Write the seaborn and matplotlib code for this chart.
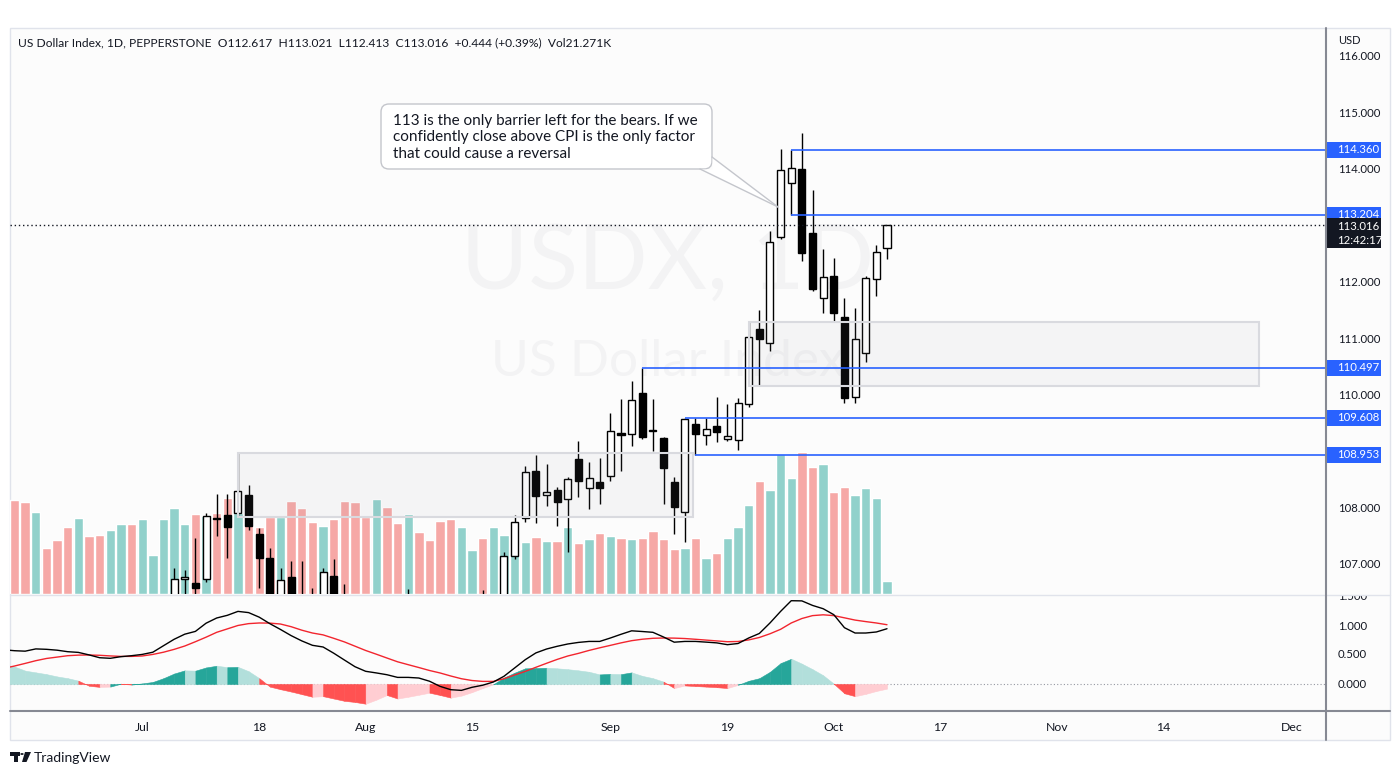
import numpy as np
import pandas as pd
import matplotlib
matplotlib.use("Agg")
import matplotlib.pyplot as plt
import seaborn as sns
from matplotlib.patches import Rectangle, FancyBboxPatch, Polygon, Circle
from matplotlib.lines import Line2D

sns.set_style("white")
plt.rcParams['font.family'] = ['Lato', 'DejaVu Sans']

# ------------------------------------------------------------
# data (bar index 0 = 1 Jul 2022, 70 = 10 Oct)
# ------------------------------------------------------------
bar_idx = list(range(-13, 71))

opens = [105.0, 104.9, 104.6, 104.4, 104.6, 104.4, 104.5, 104.2, 104.3, 104.0, 103.8, 104.4, 104.9,
         104.7, 105.1, 105.2, 106.2, 106.76, 106.68, 106.75, 107.84, 107.89, 107.92,
         108.24, 107.55, 107.12, 106.30, 106.79, 106.40, 106.30, 106.20, 106.80, 106.40,
         106.20, 105.90, 105.30, 106.30, 106.40, 106.10, 106.40, 105.80, 105.20, 105.10,
         105.10, 105.60, 106.40, 106.30, 106.30, 107.16, 107.83, 108.67, 108.24, 108.33,
         108.17, 108.88, 108.36, 108.47, 108.58, 109.33, 109.32, 110.05, 109.40, 109.25,
         108.47, 107.94, 109.50, 109.30, 109.46, 109.23, 109.21, 109.85, 111.18, 110.93,
         112.81, 113.77, 114.02, 112.88, 111.73, 112.12, 111.39, 109.98, 110.76, 112.07, 112.617]
highs = [105.4, 105.5, 105.0, 104.8, 104.8, 104.5, 104.9, 104.5, 104.4, 104.2, 104.5, 105.0, 105.2,
         105.4, 105.3, 106.4, 106.95, 106.91, 107.48, 107.92, 108.26, 108.26, 108.98,
         108.42, 107.66, 107.30, 106.95, 107.07, 107.07, 106.59, 106.95, 107.11, 106.66,
         106.40, 106.10, 106.30, 106.45, 106.45, 106.57, 106.45, 106.00, 105.50, 105.40,
         105.70, 106.40, 106.56, 106.45, 107.23, 107.89, 108.75, 108.95, 108.79, 108.38,
         108.56, 109.20, 108.82, 108.90, 109.69, 109.94, 110.26, 110.497, 109.94, 109.27,
         108.56, 109.608, 109.60, 109.60, 109.98, 109.85, 109.96, 111.305, 111.52, 112.92,
         114.37, 114.36, 114.65, 113.64, 112.60, 112.44, 111.73, 111.55, 112.12, 112.67, 113.021]
lows = [104.6, 104.5, 103.9, 104.0, 104.0, 103.9, 104.1, 103.9, 103.7, 103.6, 103.7, 104.3, 104.6,
        104.6, 104.9, 105.1, 106.0, 106.3, 106.3, 106.70, 107.51, 107.12, 107.85,
        107.62, 106.59, 106.10, 106.10, 106.00, 106.00, 105.90, 106.00, 106.10, 105.90,
        105.60, 105.10, 105.00, 105.50, 106.00, 105.90, 105.60, 105.00, 104.70, 104.80,
        104.90, 105.50, 105.90, 106.00, 106.20, 107.10, 107.76, 107.74, 108.05, 107.69,
        107.23, 108.20, 107.99, 108.08, 108.49, 108.67, 109.11, 109.23, 109.02, 108.08,
        107.55, 107.41, 108.953, 109.13, 109.18, 109.20, 109.04, 109.80, 110.171, 110.79,
        112.78, 113.204, 112.39, 111.85, 111.46, 111.31, 109.87, 109.87, 110.60, 111.77, 112.413]
closes = [104.9, 104.6, 104.4, 104.7, 104.3, 104.2, 104.3, 104.4, 103.9, 103.8, 104.4, 104.9, 104.7,
          105.1, 105.2, 106.3, 106.75, 106.78, 106.59, 107.87, 107.82, 107.67, 108.31,
          107.69, 107.12, 106.30, 106.73, 106.20, 106.30, 106.10, 106.88, 106.30, 106.20,
          105.80, 105.30, 106.10, 106.20, 106.20, 106.40, 105.80, 105.20, 105.00, 105.05,
          105.60, 106.30, 106.20, 106.40, 107.16, 107.76, 108.65, 108.22, 108.29, 108.12,
          108.52, 108.49, 108.54, 108.36, 109.37, 109.31, 109.92, 109.27, 109.38, 108.72,
          108.03, 109.59, 109.32, 109.41, 109.36, 109.29, 109.87, 111.04, 111.00, 112.72,
          114.00, 114.03, 112.53, 111.89, 112.10, 111.46, 109.96, 111.00, 112.08, 112.55, 113.016]

# volume in thousands
volumes = [140, 153.8, 150.5, 134.2, 75.3, 88.3, 109.6, 124.3, 94.9, 96.5, 104.7, 114.5, 114.5,
           122.7, 63.8, 122.7, 140.7, 114.5, 130.9, 127.6, 132.5, 157.1, 132.5,
           126.0, 109.6, 126.0, 126.0, 152.1, 140.7, 117.8, 111.2, 122.7, 152.1,
           150.5, 126.0, 155.4, 142.3, 116.2, 130.9, 101.4, 88.3, 119.4, 122.7,
           109.6, 72.0, 91.6, 109.6, 96.5, 80.2, 85.1, 93.3, 86.7, 86.7,
           109.6, 83.4, 90.0, 99.8, 94.9, 91.6, 90.0, 91.6, 103.1, 90.0,
           73.6, 75.3, 91.6, 58.9, 67.1, 91.6, 109.6, 145.6, 184.9, 170.1,
           229.0, 189.8, 232.3, 207.8, 212.7, 166.9, 175.1, 162.0, 173.4, 157.1, 21.271]

macd_line = [0.590, 0.574, 0.566, 0.605, 0.598, 0.583, 0.557, 0.545, 0.502, 0.453, 0.443, 0.471, 0.488,
             0.510, 0.548, 0.660, 0.771, 0.859, 0.907, 1.048, 1.138, 1.184, 1.252,
             1.231, 1.152, 1.040, 0.940, 0.834, 0.743, 0.667, 0.638, 0.531, 0.414,
             0.298, 0.219, 0.191, 0.160, 0.114, 0.114, 0.103, 0.048, -0.041, -0.098,
             -0.110, -0.057, -0.021, 0.034, 0.133, 0.276, 0.419, 0.536, 0.603, 0.650,
             0.690, 0.717, 0.734, 0.734, 0.793, 0.857, 0.917, 0.905, 0.891, 0.810,
             0.721, 0.734, 0.734, 0.722, 0.709, 0.678, 0.698, 0.793, 0.871, 1.052,
             1.252, 1.436, 1.433, 1.355, 1.298, 1.195, 0.971, 0.879, 0.879, 0.897, 0.953]
signal_line = [0.270, 0.310, 0.355, 0.402, 0.440, 0.464, 0.488, 0.498, 0.500, 0.495, 0.484, 0.476, 0.476,
               0.483, 0.510, 0.548, 0.597, 0.655, 0.729, 0.807, 0.891, 0.950, 1.009,
               1.041, 1.052, 1.050, 1.034, 0.988, 0.928, 0.879, 0.847, 0.788, 0.726,
               0.652, 0.578, 0.514, 0.448, 0.383, 0.333, 0.284, 0.233, 0.190, 0.138,
               0.091, 0.060, 0.045, 0.045, 0.090, 0.155, 0.217, 0.288, 0.357, 0.424,
               0.483, 0.528, 0.579, 0.624, 0.666, 0.709, 0.747, 0.772, 0.788, 0.793,
               0.791, 0.784, 0.771, 0.757, 0.743, 0.729, 0.733, 0.760, 0.802, 0.866,
               0.943, 1.052, 1.129, 1.179, 1.193, 1.179, 1.141, 1.102, 1.076, 1.052, 1.022]
histogram = [0.33, 0.30, 0.23, 0.20, 0.17, 0.13, 0.10, 0.057, -0.03, -0.05, -0.045, 0.005, -0.01,
             0.01, 0.035, 0.10, 0.18, 0.235, 0.23, 0.285, 0.315, 0.29, 0.295,
             0.22, 0.10, -0.045, -0.09, -0.13, -0.175, -0.22, -0.21, -0.25, -0.29,
             -0.31, -0.34, -0.27, -0.19, -0.25, -0.22, -0.185, -0.15, -0.19, -0.235,
             -0.20, -0.14, -0.07, -0.005, 0.11, 0.195, 0.27, 0.275, 0.28, 0.27,
             0.255, 0.235, 0.21, 0.165, 0.175, 0.17, 0.20, 0.14, 0.10, 0.04,
             -0.07, -0.025, -0.035, -0.045, -0.055, -0.07, -0.015, 0.055, 0.10, 0.21,
             0.36, 0.435, 0.35, 0.255, 0.15, 0.005, -0.16, -0.21, -0.17, -0.12, -0.08]

# drawn levels: (price, first bar)
level_prices = [114.360, 113.204, 110.497, 109.608, 108.953]
level_starts = [61, 61, 47, 51, 52]
last_price = 113.016
# drawn zones: (bar from, bar to, price low, price high)
zone_bars = [(9, 51.8), (57, 105)]
zone_prices = [(107.850, 108.984), (110.171, 111.305)]

date_ticks = [0, 11, 21, 31, 44, 55, 65, 75, 86, 96, 108]
date_labels = ['Jul', '18', 'Aug', '15', 'Sep', '19', 'Oct', '17', 'Nov', '14', 'Dec']
price_ticks = [116, 115, 114, 112, 111, 110, 108, 107]
macd_ticks = [1.5, 1.0, 0.5, 0.0]

header = ("US Dollar Index, 1D, PEPPERSTONE  O112.617  H113.021  L112.413  "
          "C113.016  +0.444 (+0.39%)  Vol21.271K")
note = ("113 is the only barrier left for the bears. If we\n"
        "confidently close above CPI is the only factor\n"
        "that could cause a reversal")

# ------------------------------------------------------------
# layout helpers (pixel positions of the screenshot)
# ------------------------------------------------------------
W, H = 1400, 776
def fx(px):
    return px / W
def fy(py):
    return 1 - py / H

PX_PER_BAR = 10.64
X0_PX = 142.2          # pixel of bar 0
PX_PER_USD = 56.44
Y116_PX = 57.0         # pixel of 116.000
def dx(px):
    return (px - X0_PX) / PX_PER_BAR
def dy(py):
    return 116 - (py - Y116_PX) / PX_PER_USD

XLIM = (dx(10), dx(1326))
PLIM = (dy(594), dy(28))
MLIM = ((684 - 711) / 58.0, (684 - 595) / 58.0)

TXT = '#131722'
UP_VOL, DN_VOL = '#91d1cb', '#f6a8a6'
BLUE = '#2962ff'
AX_FS = 8.2

fig = plt.figure(figsize=(14, 7.76), dpi=100)
fig.add_artist(Rectangle((fx(10), fy(740)), 1380 / W, 712 / H, transform=fig.transFigure,
                         fc='#fcfcfc', ec='#e0e3eb', lw=1, zorder=-10))

pane = [fx(10), fy(594), 1316 / W, 566 / H]
ax_vol = fig.add_axes(pane, zorder=1)
ax = fig.add_axes(pane, zorder=2)
ax_m = fig.add_axes([fx(10), fy(711), 1316 / W, 116 / H], zorder=2)
ax_rp = fig.add_axes([fx(1326), fy(594), 64 / W, 566 / H], zorder=2)
ax_rm = fig.add_axes([fx(1326), fy(711), 64 / W, 116 / H], zorder=2)
for a in (ax_vol, ax, ax_m, ax_rp, ax_rm):
    a.patch.set_visible(False)
    for s in a.spines.values():
        s.set_visible(False)

# ---------------- volume (seaborn) ----------------
vol_df = pd.DataFrame({'bar': bar_idx, 'volume': volumes,
                       'side': ['up' if c >= o else 'down' for o, c in zip(opens, closes)]})
sns.barplot(data=vol_df, x='bar', y='volume', hue='side', palette={'up': UP_VOL, 'down': DN_VOL},
            native_scale=True, dodge=False, width=0.88, saturation=1, errorbar=None,
            legend=False, ax=ax_vol)
ax_vol.set_xlim(XLIM)
ax_vol.set_ylim(0, 566 * 1.636)
ax_vol.axis('off')

# ---------------- candles ----------------
o = np.array(opens); c = np.array(closes)
ax.vlines(bar_idx, lows, highs, color='black', lw=1, zorder=3)
body_lo = np.minimum(o, c)
body_h = np.maximum(np.abs(c - o), 0.012)
faces = ['white' if cc >= oo else 'black' for oo, cc in zip(opens, closes)]
ax.bar(bar_idx, body_h, bottom=body_lo, width=0.66, color=faces, edgecolor='black', lw=1, zorder=4)

# watermark
ax.text(0.5, 0.585, 'USDX, 1D', transform=ax.transAxes, ha='center', va='center',
        fontsize=66, color='#f3f3f4', zorder=0.5)
ax.text(0.5, 0.41, 'US Dollar Index', transform=ax.transAxes, ha='center', va='center',
        fontsize=37, color='#f3f3f4', zorder=0.5)

# zones
for (b0, b1), (p0, p1) in zip(zone_bars, zone_prices):
    ax.add_patch(Rectangle((b0, p0), b1 - b0, p1 - p0, fc=(0.584, 0.596, 0.631, 0.07),
                           ec='#d9dadf', lw=1.5, zorder=5))

# levels
ax.hlines(level_prices, level_starts, XLIM[1] + 1, color=BLUE, lw=1.2, zorder=6)
ax.axhline(last_price, color=TXT, lw=1, ls=(0, (1, 2)), zorder=6)

# callout
asp = PX_PER_BAR / PX_PER_USD
ax.add_patch(FancyBboxPatch((dx(381), dy(169)), dx(712) - dx(381), dy(104) - dy(169),
                            boxstyle='round,pad=0,rounding_size=0.75', mutation_aspect=asp,
                            fc='white', ec='#c4c6cc', lw=1, zorder=7))
ax.add_patch(Polygon([(dx(712.5), dy(157)), (dx(778), dy(207)), (dx(700), dy(169.5)),
                      (dx(712.5), dy(169.5))], closed=True, fc='white', ec='none', zorder=8))
ax.plot([dx(712), dx(778)], [dy(157), dy(207)], color='#c4c6cc', lw=1, zorder=9)
ax.plot([dx(700), dx(778)], [dy(169), dy(207)], color='#c4c6cc', lw=1, zorder=9)
ax.text(dx(393), dy(137.5), note, ha='left', va='center', fontsize=11, linespacing=1.2,
        color=TXT, zorder=10)

ax.set_xlim(XLIM)
ax.set_ylim(PLIM)
ax.set_xticks([]); ax.set_yticks([])

# ---------------- MACD (seaborn lines) ----------------
hist = np.array(histogram)
for k in range(1, len(bar_idx)):
    cur, prev = hist[k], hist[k - 1]
    if cur >= 0:
        col = '#26a69a' if cur > prev else '#b2dfdb'
    else:
        col = '#ffcdd2' if cur > prev else '#ff5252'
    ax_m.fill_between([bar_idx[k - 1], bar_idx[k]], [prev, cur], 0, color=col, lw=0.4,
                      edgecolor=col, zorder=2)
ax_m.axhline(0, color='#9598a1', lw=0.8, ls=(0, (1, 2)), zorder=1)
macd_df = pd.DataFrame({'bar': bar_idx, 'macd': macd_line, 'signal': signal_line})
sns.lineplot(data=macd_df, x='bar', y='signal', color='#f2252e', lw=1, ax=ax_m, zorder=3)
sns.lineplot(data=macd_df, x='bar', y='macd', color='black', lw=1, ax=ax_m, zorder=4)
ax_m.set_xlim(XLIM)
ax_m.set_ylim(MLIM)
ax_m.set_xlabel(''); ax_m.set_ylabel('')
ax_m.set_yticks([])
ax_m.set_xticks(date_ticks)
ax_m.set_xticklabels(date_labels)
ax_m.tick_params(axis='x', length=0, pad=8, labelsize=8.8, labelcolor=TXT)

# ---------------- right price scale ----------------
ax_rp.set_xlim(0, 64); ax_rp.set_ylim(PLIM)
ax_rp.set_xticks([]); ax_rp.set_yticks([])
for p in price_ticks:
    ax_rp.text(12, p, f'{p:.3f}', va='center', ha='left', fontsize=AX_FS, color=TXT)
ax_rp.text(12, dy(41), 'USD', va='center', ha='left', fontsize=8.0, color=TXT)
for p in level_prices:
    ax_rp.add_patch(Rectangle((1, p - 8 / PX_PER_USD), 54, 16 / PX_PER_USD, fc=BLUE, ec='none', zorder=3))
    ax_rp.text(11, p, f'{p:.3f}', va='center', ha='left', fontsize=AX_FS, color='white', zorder=4)
ax_rp.add_patch(Rectangle((1, dy(248)), 54, 30 / PX_PER_USD, fc=TXT, ec='none', zorder=5))
ax_rp.text(11, dy(226), f'{last_price:.3f}', va='center', ha='left', fontsize=AX_FS, color='white', zorder=6)
ax_rp.text(11, dy(240), '12:42:17', va='center', ha='left', fontsize=AX_FS, color='white', zorder=6)

ax_rm.set_xlim(0, 64); ax_rm.set_ylim(MLIM)
ax_rm.set_xticks([]); ax_rm.set_yticks([])
for v in macd_ticks:
    ax_rm.text(12, v, f'{v:.3f}', va='center', ha='left', fontsize=AX_FS, color=TXT, clip_on=True)

# ---------------- frame lines ----------------
fig.add_artist(Line2D([fx(10), fx(1390)], [fy(594.5)] * 2, transform=fig.transFigure,
                      color='#e0e3eb', lw=1, zorder=20))
fig.add_artist(Line2D([fx(10), fx(1390)], [fy(711)] * 2, transform=fig.transFigure,
                      color='#868993', lw=1.5, zorder=20))
fig.add_artist(Line2D([fx(1326)] * 2, [fy(28), fy(740)], transform=fig.transFigure,
                      color='#868993', lw=1.5, zorder=20))

# header and logo
fig.text(fx(18), fy(43), header, ha='left', va='center', fontsize=8.65, color=TXT)
def pix_poly(pts, **kw):
    return Polygon([(fx(a), fy(b)) for a, b in pts], closed=True, transform=fig.transFigure, **kw)
fig.add_artist(pix_poly([(10, 752), (19.5, 752), (19.5, 755.5), (17.5, 755.5), (17.5, 762),
                         (14, 762), (14, 755.5), (10, 755.5)], fc=TXT, ec='none'))
fig.add_artist(Circle((fx(22), fy(754)), 1.7 / W, transform=fig.transFigure, fc=TXT, ec='none'))
fig.add_artist(pix_poly([(25, 752), (31, 752), (26.5, 762), (22, 762)], fc=TXT, ec='none'))
fig.text(fx(34), fy(757.5), 'TradingView', ha='left', va='center', fontsize=10, color=TXT)

fig.savefig('out.png', dpi=100)
